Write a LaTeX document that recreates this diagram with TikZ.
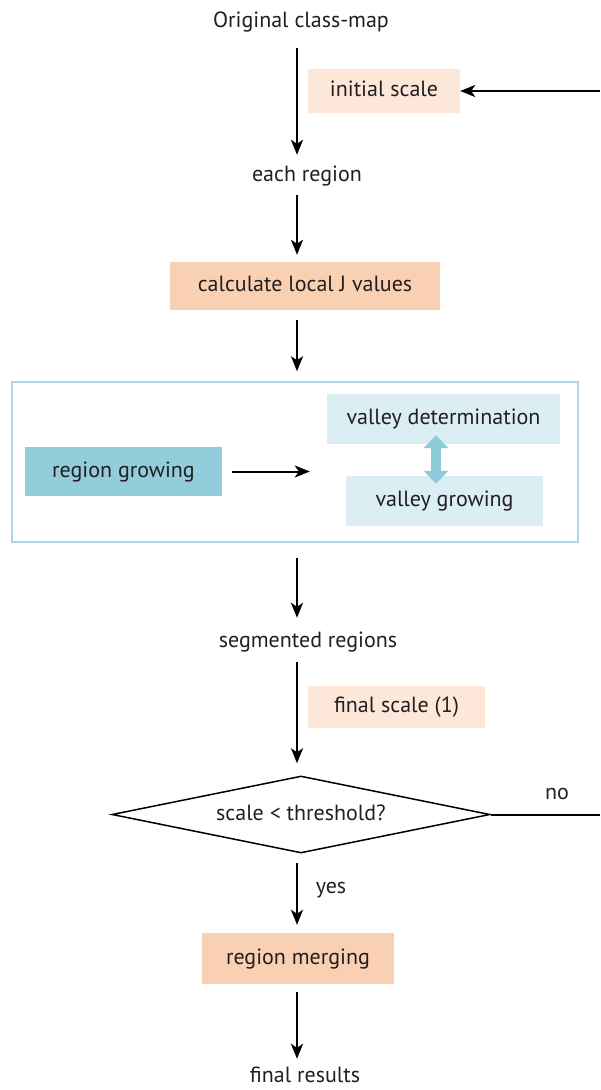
\documentclass[tikz,border=0pt]{standalone}
\usepackage{fontspec}
\setmainfont{PT Sans}
\usetikzlibrary{arrows.meta,shapes.geometric}
\definecolor{txt}{HTML}{231F20}
\definecolor{peachlt}{HTML}{FCE7D9}
\definecolor{peach}{HTML}{FAD0B2}
\definecolor{bluedk}{HTML}{92CDDC}
\definecolor{bluelt}{HTML}{DBEEF3}
\definecolor{blueline}{HTML}{A9D9E5}
\definecolor{bluearr}{HTML}{8DCBD9}
\tikzset{
  every node/.style={font=\fontsize{22pt}{24pt}\selectfont, text=txt},
  lbl/.style={inner sep=0pt, text height=16pt, text depth=5pt},
  boxs/.style={inner sep=0pt, text height=16pt, text depth=5pt},
  arr/.style={draw=black, line width=2pt, -{Stealth[length=15pt,width=12pt,inset=4pt]}},
  plain/.style={draw=black, line width=2pt}
}
\begin{document}
\begin{tikzpicture}[x=1pt,y=-1pt]
\useasboundingbox (0,0) rectangle (600,1090);
\coordinate (spine) at (297,0);
% texts
\node[lbl] (orig) at (301,22) {Original class-map};
\node[lbl] (each) at (307,176) {each region};
\node[lbl] (seg) at (308,642) {segmented regions};
\node[lbl] (final) at (305,1077) {final results};
% boxes
\node[boxs, fill=peachlt, minimum width=152pt, minimum height=44pt] (init) at (384,91) {initial scale};
\node[boxs, fill=peach, minimum width=270pt, minimum height=48pt] (calc) at (305,286) {calculate local J values};
\node[draw=blueline, line width=1.5pt, minimum width=566pt, minimum height=160pt, inner sep=0pt] (outer) at (295,462) {};
\node[boxs, fill=bluedk, minimum width=197pt, minimum height=49pt] (rg) at (123.5,471.5) {region growing};
\node[boxs, fill=bluelt, minimum width=233pt, minimum height=50pt] (vd) at (443.5,419) {valley determination};
\node[boxs, fill=bluelt, minimum width=197pt, minimum height=50pt] (vg) at (444.5,501) {valley growing};
\node[boxs, fill=peachlt, minimum width=177pt, minimum height=42pt] (fs) at (396.5,707) {final scale (1)};
\node[draw=black, line width=1.5pt, diamond, aspect=4.9, minimum width=378pt, minimum height=77pt, inner sep=0pt, text height=16pt, text depth=5pt] (dec) at (301,814.5) {scale < threshold?};
\node[boxs, fill=peach, minimum width=192pt, minimum height=51pt] (mergebox) at (298,958.5) {region merging};
\node[lbl] (yes) at (331,888) {yes};
\node[lbl] (no) at (557,794) {no};
% free ends
\coordinate (rin) at (600,91);
\coordinate (rout) at (600,814.5);
% connectors
\draw[arr, shorten <=15.5pt, shorten >=10.5pt] (orig.south -| spine) -- (each.north -| spine);
\draw[arr] (rin) -- (init.east);
\draw[arr, shorten <=8.5pt, shorten >=7pt] (each.south -| spine) -- (calc.north -| spine);
\draw[arr, shorten <=10pt, shorten >=10pt] (calc.south -| spine) -- (outer.north -| spine);
\draw[arr, shorten <=10pt, shorten >=17pt] (rg.east) -- (rg.east -| vd.west);
\draw[bluearr, line width=10pt, shorten <=-9pt, shorten >=-8pt, {Triangle[length=13pt,width=24pt]}-{Triangle[length=13pt,width=24pt]}] (vd.south -| 436,0) -- (vg.north -| 436,0);
\draw[arr, shorten <=15pt, shorten >=13.5pt] (outer.south -| spine) -- (seg.north -| spine);
\draw[arr, shorten <=9.5pt, shorten >=12pt] (seg.south -| spine) -- (dec.north -| spine);
\draw[plain] (dec.east) -- (rout);
\draw[arr, shorten <=9pt, shorten >=8pt] (dec.south -| spine) -- (mergebox.north -| spine);
\draw[arr, shorten <=8pt, shorten >=7.5pt] (mergebox.south -| spine) -- (final.north -| spine);
\end{tikzpicture}
\end{document}
